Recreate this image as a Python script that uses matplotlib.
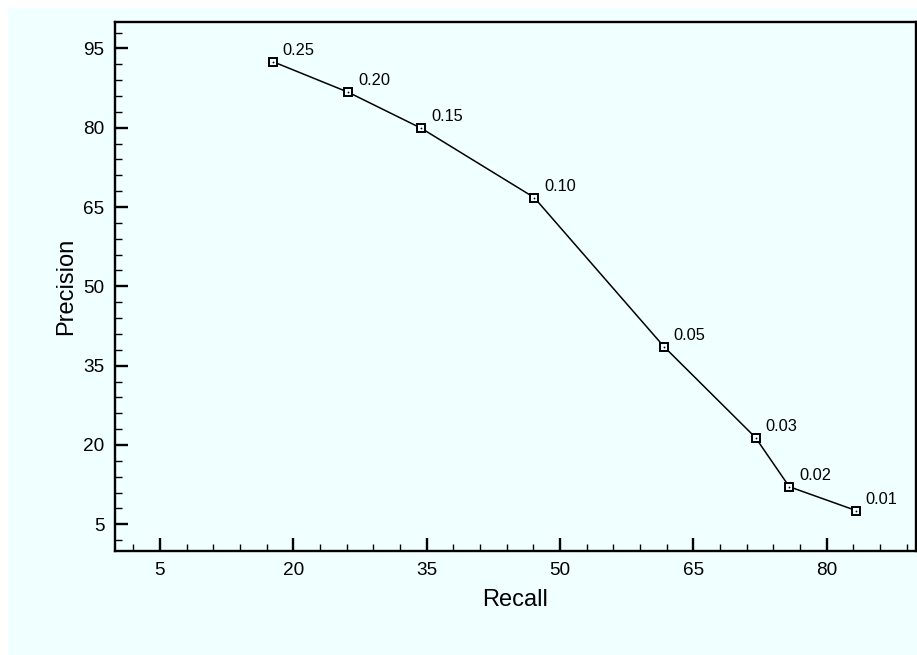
import matplotlib
matplotlib.use("Agg")
import matplotlib.pyplot as plt
from matplotlib.patches import Rectangle
from matplotlib.ticker import FixedLocator
import numpy as np

# ---- data ----
recall = [17.7, 26.2, 34.4, 47.1, 61.7, 72.0, 75.8, 83.3]
precision = [92.5, 86.7, 79.9, 66.8, 38.6, 21.4, 12.1, 7.6]
thresholds = ["0.25", "0.20", "0.15", "0.10", "0.05", "0.03", "0.02", "0.01"]
x_major = [5, 20, 35, 50, 65, 80]
y_major = [5, 20, 35, 50, 65, 80, 95]

BG = "#F0FFFF"
plt.rcParams['font.family'] = ['Liberation Sans', 'DejaVu Sans']

W, H = 917, 655
fig = plt.figure(figsize=(W / 100, H / 100), dpi=100, facecolor="white")
fig.patches.append(Rectangle((8 / W, 0), 1 - 8 / W, 1 - 8 / H,
                             transform=fig.transFigure, facecolor=BG,
                             edgecolor="none", zorder=-10))

ax = fig.add_axes([115.5 / W, 1 - 550.7 / H, 800 / W, (550.7 - 22) / H])
ax.set_facecolor(BG)
ax.set_xlim(0, 90)
ax.set_ylim(0, 100)

ax.plot(recall, precision, color="black", lw=1.1, zorder=2)
ax.plot(recall, precision, ls="none", marker="s", ms=5.5, mfc=BG,
        mec="black", mew=1.4, zorder=3)
ax.plot(recall, precision, ls="none", marker="o", ms=1.3, mfc="black",
        mec="black", mew=0, zorder=4)

for x, y, t in zip(recall, precision, thresholds):
    ax.annotate(t, (x, y), xytext=(7, 5), textcoords="offset points",
                ha="left", va="baseline", fontsize=11.8)

ax.xaxis.set_major_locator(FixedLocator(x_major))
ax.yaxis.set_major_locator(FixedLocator(y_major))
ax.xaxis.set_minor_locator(FixedLocator(np.arange(2, 90, 3)))
ax.yaxis.set_minor_locator(FixedLocator(np.arange(2, 100, 3)))

ax.tick_params(which="major", direction="in", length=9.5, width=1.7,
               labelsize=13.7, top=False, right=False)
ax.tick_params(which="minor", direction="in", length=5, width=1.0,
               top=False, right=False)
ax.tick_params(axis="y", which="major", pad=8)
ax.tick_params(axis="x", which="major", pad=8)

for s in ax.spines.values():
    s.set_linewidth(1.7)
    s.set_color("black")

ax.set_xlabel("Recall", fontsize=17, labelpad=7)
ax.set_ylabel("Precision", fontsize=17, labelpad=4)

fig.savefig("out.png", dpi=100, facecolor=fig.get_facecolor())
